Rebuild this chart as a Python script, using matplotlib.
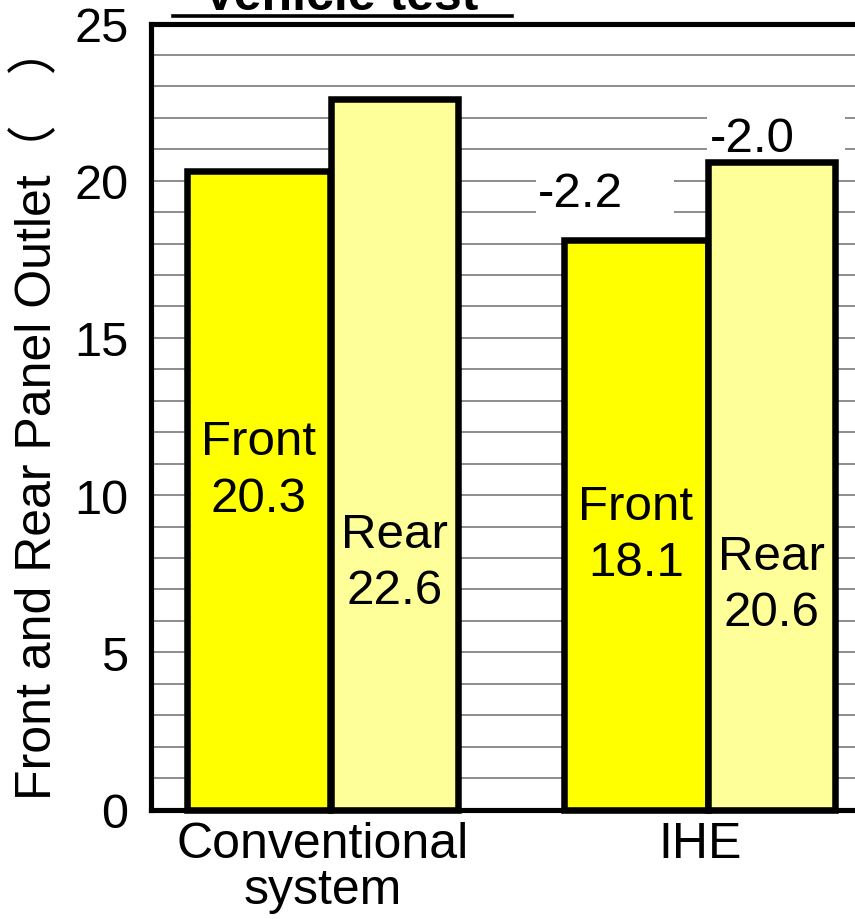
import matplotlib
matplotlib.use("Agg")
import matplotlib.pyplot as plt
from matplotlib.lines import Line2D
from matplotlib.patches import Rectangle
import numpy as np

plt.rcParams['font.family'] = ['Liberation Sans', 'Noto Sans CJK JP', 'DejaVu Sans']

# outlet temperatures
systems = ["Conventional\nsystem", "IHE"]
front = [20.3, 18.1]
rear = [22.6, 20.6]

# where the inner labels sit (y, data units)
front_label_y = [10.8, 8.75]
rear_label_y = [7.85, 7.15]

FRONT_COLOR = "#ffff00"
REAR_COLOR = "#ffff99"
FS = 35.5

fig = plt.figure(figsize=(8.55, 9.2), dpi=100)
ax = fig.add_axes([150.5 / 855, 109.5 / 920, (870 - 150.5) / 855, 786 / 920])

x = np.arange(len(systems))
f_off, f_w = -0.36, 0.38
r_off, r_w = 0.022, 0.336

ax.bar(x + f_off, front, width=f_w, align="edge", color=FRONT_COLOR,
       edgecolor="black", linewidth=4.7, zorder=2, clip_on=False)
ax.bar(x + r_off, rear, width=r_w, align="edge", color=REAR_COLOR,
       edgecolor="black", linewidth=4.7, zorder=2, clip_on=False)

for i in range(len(systems)):
    ax.text(x[i] + f_off + f_w / 2, front_label_y[i], f"Front\n{front[i]}",
            ha="center", va="center", fontsize=FS, linespacing=1.32, zorder=4)
    ax.text(x[i] + r_off + r_w / 2, rear_label_y[i], f"Rear\n{rear[i]}",
            ha="center", va="center", fontsize=FS, linespacing=1.32, zorder=4)

# change vs conventional, on white patches
d_front = front[1] - front[0]
d_rear = rear[1] - rear[0]
ax.add_patch(Rectangle((0.566, 18.55), 0.365, 2.0, facecolor="white",
                       edgecolor="none", zorder=1))
ax.text(0.682, 19.6, f"{d_front:.1f}", ha="center", va="center", fontsize=FS, zorder=4)
ax.add_patch(Rectangle((1.019, 20.85), 0.365, 1.9, facecolor="white",
                       edgecolor="none", zorder=1))
ax.text(1.138, 21.35, f"{d_rear:.1f}", ha="center", va="center", fontsize=FS, zorder=4)

ax.set_xlim(-0.4556, 1.4503)
ax.set_ylim(0, 25)
ax.set_yticks(range(0, 26, 5))
ax.set_yticks(range(0, 26, 1), minor=True)
ax.yaxis.grid(True, which="both", color="#858585", linewidth=1.3, zorder=0)
ax.set_axisbelow(True)
ax.set_xticks(x)
ax.set_xticklabels(systems, fontsize=36, linespacing=1.0)
ax.tick_params(axis="both", which="both", length=0)
ax.tick_params(axis="y", labelsize=35, pad=16)
ax.tick_params(axis="x", pad=8)

for s in ["left", "top", "bottom"]:
    ax.spines[s].set_linewidth(3.7)
    ax.spines[s].set_zorder(5)
ax.spines["right"].set_visible(False)

fig.text(51 / 855, 1 - 800 / 920, "Front and Rear Panel Outlet（\u3000）",
         rotation=90, rotation_mode="anchor", ha="left", va="baseline",
         fontsize=36)

fig.text(341 / 855, 1 - 10 / 920, "Vehicle test", ha="center", va="baseline",
         fontsize=36, fontweight="bold")
fig.add_artist(Line2D([173 / 855, 512 / 855], [1 - 16.5 / 920] * 2,
                      transform=fig.transFigure, color="black", linewidth=2.6))

fig.savefig("out.png", dpi=100)
